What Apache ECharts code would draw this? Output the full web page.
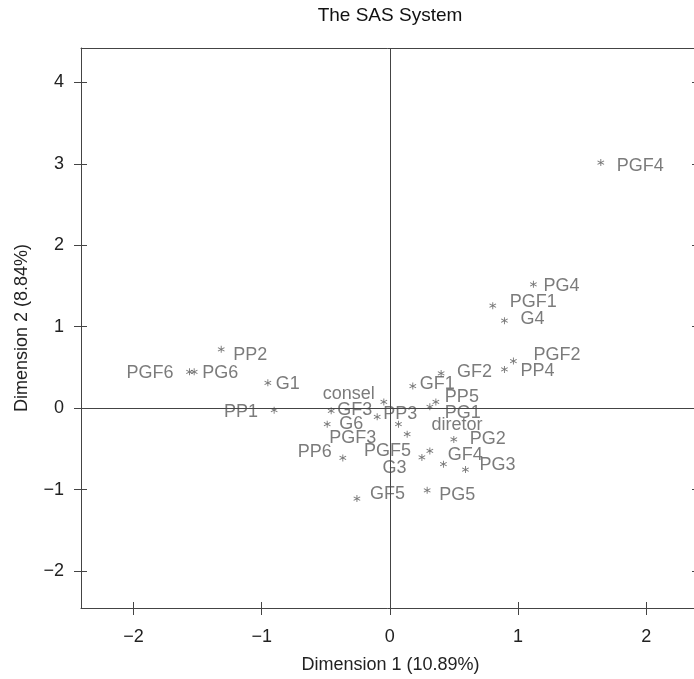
<!DOCTYPE html>
<html>
<head>
<meta charset="utf-8">
<title>The SAS System</title>
<script src="https://cdn.jsdelivr.net/npm/echarts@6/dist/echarts.min.js"></script>
<style>
html, body { margin: 0; padding: 0; background: #fff; }
#chart { width: 694px; height: 679px; }
</style>
</head>
<body>
<div id="chart"></div>
<script>
// point names and their coordinates on the two dimensions
const names = ["PGF4", "PG4", "PGF1", "G4", "PGF2", "PP4", "GF2", "GF1", "consel", "PP5",
  "PG1", "GF3", "PP3", "G6", "diretor", "PGF3", "PGF5", "GF4", "G3", "PG2",
  "PG3", "PG5", "GF5", "PP6", "PP2", "PGF6", "PG6", "G1", "PP1"];
const dim1 = [1.646, 1.120, 0.803, 0.894, 0.964, 0.894, 0.400, 0.179, -0.047, 0.359,
  0.312, -0.458, -0.099, -0.489, 0.067, 0.135, 0.250, 0.312, 0.418, 0.499,
  0.590, 0.291, -0.257, -0.367, -1.316, -1.563, -1.527, -0.952, -0.903];
const dim2 = [3.017, 1.521, 1.258, 1.074, 0.578, 0.476, 0.427, 0.271, 0.077, 0.077,
  0.016, -0.033, -0.107, -0.197, -0.197, -0.320, -0.606, -0.525, -0.689, -0.385,
  -0.754, -1.009, -1.111, -0.611, 0.722, 0.446, 0.446, 0.311, -0.025];

const xTicks = [-2, -1, 0, 1, 2];
const yTicks = [-2, -1, 0, 1, 2, 3, 4];

// label placement next to each point: [dx, dy, side] (side "l" = label left of point)
const labelPlace = {
  PGF4: [16, 3, "r"], PG4: [10, 2, "r"], PGF1: [17, -4, "r"], G4: [16, -2, "r"],
  PGF2: [20, -6, "r"], PP4: [16, 2, "r"], GF2: [16, -1, "r"], GF1: [7, -2, "r"],
  consel: [-9, -8, "l"], PP5: [9, -5, "r"], PG1: [15, 6, "r"], GF3: [6, -1, "r"],
  PP3: [6, -3, "r"], G6: [12, 0, "r"], diretor: [33, 1, "r"], PGF3: [-31, 4, "l"],
  PGF5: [-11, -6, "l"], GF4: [18, 4, "r"], G3: [-37, 4, "l"], PG2: [16, 0, "r"],
  PG3: [14, -4, "r"], PG5: [12, 5, "r"], GF5: [13, -5, "r"], PP6: [-11, -6, "l"],
  PP2: [12, 6, "r"], PGF6: [-16, 1, "l"], PG6: [8, 1, "r"], G1: [8, 1, "r"],
  PP1: [-16, 2, "l"]
};

const asterisk = "path://M44 0H56V100H44Z M3.7 30.2L9.7 19.8L96.3 69.8L90.3 80.2Z M90.3 19.8L96.3 30.2L9.7 80.2L3.7 69.8Z";
const font = "Liberation Sans, Arial, Helvetica, sans-serif";
const frame = { color: "#444", width: 1 };
const minus = v => String(v).replace("-", "\u2212");

const points = names.map((n, i) => {
  const p = labelPlace[n];
  return {
    name: n,
    value: [dim1[i], dim2[i]],
    label: {
      position: "inside",
      align: p[2] === "l" ? "right" : "left",
      verticalAlign: "middle",
      offset: [p[0], p[1]]
    }
  };
});

// extra axes: frame lines and the inner half of the crossing ticks
function tickAxis(extra, ticks, min, max, showLine, tickLen) {
  return Object.assign({
    type: "value", min: min, max: max,
    axisLine: { show: showLine, onZero: false, lineStyle: frame },
    axisTick: { show: tickLen > 0, inside: true, length: tickLen, lineStyle: { color: "#444" }, customValues: ticks },
    axisLabel: { show: false },
    splitLine: { show: false }
  }, extra);
}

const chart = echarts.init(document.getElementById("chart"));
chart.setOption({
  animation: false,
  textStyle: { fontFamily: font },
  title: {
    text: "The SAS System",
    left: 390,
    top: 6,
    padding: 0,
    textAlign: "center",
    textStyle: { fontSize: 19, fontWeight: "normal", color: "#111", fontFamily: font }
  },
  grid: {
    left: 81, top: 48, width: 619, height: 560,
    outerBoundsMode: "none",
    show: false
  },
  xAxis: [
    {
      type: "value", min: -2.41, max: 2.42, position: "bottom",
      name: "Dimension 1 (10.89%)", nameLocation: "middle", nameGap: 48,
      nameTextStyle: { fontSize: 18, color: "#222", fontFamily: font },
      axisLine: { show: true, onZero: false, lineStyle: frame },
      axisTick: { show: true, inside: false, length: 7, lineStyle: { color: "#444" }, customValues: xTicks },
      axisLabel: { show: true, margin: 20, fontSize: 18, color: "#222", fontFamily: font, customValues: xTicks, formatter: minus },
      splitLine: { show: false }
    },
    tickAxis({ position: "bottom" }, xTicks, -2.41, 2.42, false, 6),
    tickAxis({ position: "top" }, xTicks, -2.41, 2.42, true, 0)
  ],
  yAxis: [
    {
      type: "value", min: -2.455, max: 4.424, position: "left",
      name: "Dimension 2 (8.84%)", nameLocation: "middle", nameGap: 50,
      nameTextStyle: { fontSize: 18, color: "#222", fontFamily: font },
      axisLine: { show: true, onZero: false, lineStyle: frame },
      axisTick: { show: true, inside: false, length: 7, lineStyle: { color: "#444" }, customValues: yTicks },
      axisLabel: { show: true, margin: 17, fontSize: 18, color: "#222", fontFamily: font, customValues: yTicks, formatter: minus },
      splitLine: { show: false }
    },
    tickAxis({ position: "left" }, yTicks, -2.455, 4.424, false, 6),
    tickAxis({ position: "right" }, yTicks, -2.455, 4.424, true, 8)
  ],
  series: [
    {
      type: "scatter",
      xAxisIndex: 0,
      yAxisIndex: 0,
      symbol: asterisk,
      symbolSize: 7,
      itemStyle: { color: "#555" },
      label: {
        show: true,
        formatter: "{b}",
        fontSize: 18,
        color: "#5a5a5a",
        fontFamily: font
      },
      data: points,
      markLine: {
        silent: true,
        symbol: "none",
        label: { show: false },
        lineStyle: { color: "#444", width: 1, type: "solid" },
        data: [{ xAxis: 0 }, { yAxis: 0 }]
      }
    }
  ]
});
</script>
</body>
</html>
